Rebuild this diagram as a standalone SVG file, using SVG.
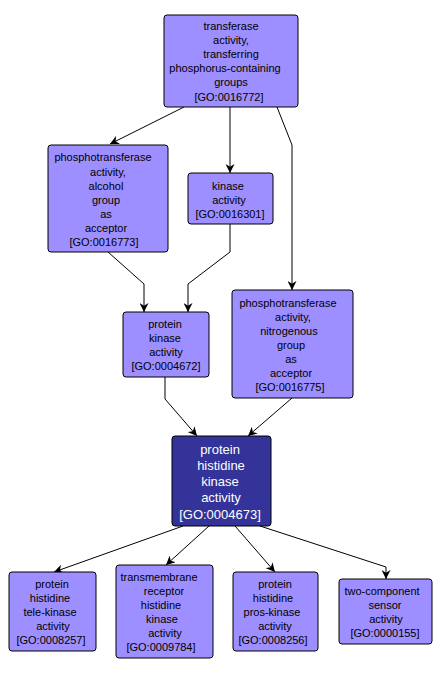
<svg xmlns="http://www.w3.org/2000/svg" width="443" height="673" viewBox="0 0 443 673">
<style>
.n rect{fill:#9d8fff;stroke:#000;stroke-width:1}
.n text{font-family:"Liberation Sans",Arial,sans-serif;font-size:11px;fill:#000;text-anchor:middle}
.m rect{fill:#333399;stroke:#000;stroke-width:1}
.m text{font-family:"Liberation Sans",Arial,sans-serif;font-size:13px;fill:#fff;text-anchor:middle}
.e path{fill:none;stroke:#000;stroke-width:1;marker-end:url(#a)}
</style>
<defs>
<marker id="a" viewBox="0 0 10 10" refX="10" refY="5" markerWidth="9" markerHeight="9" orient="auto" markerUnits="userSpaceOnUse">
<path d="M0,0 L10,5 L0,10 L3,5 Z" fill="#000"/>
</marker>
</defs>
<rect width="443" height="673" fill="#fff"/>
<g class="e" id="edges">
<path d="M184,107 L110,144"/>
<path d="M230,107 L230,173"/>
<path d="M277,107 L292,145 L292,290"/>
<path d="M108,252 L144,284 L144,312"/>
<path d="M230,224 L230,252 L188,284 L188,312"/>
<path d="M165,377 L165,399 L197,436"/>
<path d="M292,398 L248,436"/>
<path d="M183,526 L54,572"/>
<path d="M209,526 L166,565"/>
<path d="M235,526 L275,572"/>
<path d="M260,526 L386,567 L386,579"/>
</g>
<g class="n" id="GO0016772">
<rect x="164" y="15" width="134" height="92" rx="3"/>
<text x="231" y="30">transferase</text>
<text x="231" y="44">activity,</text>
<text x="231" y="58">transferring</text>
<text x="225" y="72">phosphorus-containing</text>
<text x="231" y="86">groups</text>
<text x="229" y="101">[GO:0016772]</text>
</g>
<g class="n" id="GO0016773">
<rect x="48" y="145" width="120" height="107" rx="3"/>
<text x="103" y="161">phosphotransferase</text>
<text x="108" y="176">activity,</text>
<text x="106" y="190">alcohol</text>
<text x="106" y="204">group</text>
<text x="106" y="218">as</text>
<text x="106" y="232">acceptor</text>
<text x="104" y="246">[GO:0016773]</text>
</g>
<g class="n" id="GO0016301">
<rect x="188" y="173" width="85" height="51" rx="3"/>
<text x="228" y="190">kinase</text>
<text x="229" y="204">activity</text>
<text x="230" y="218">[GO:0016301]</text>
</g>
<g class="n" id="GO0004672">
<rect x="123" y="312" width="86" height="65" rx="3"/>
<text x="165" y="328">protein</text>
<text x="165" y="342">kinase</text>
<text x="166" y="356">activity</text>
<text x="166" y="370">[GO:0004672]</text>
</g>
<g class="n" id="GO0016775">
<rect x="232" y="290" width="121" height="108" rx="3"/>
<text x="288" y="307">phosphotransferase</text>
<text x="293" y="321">activity,</text>
<text x="289" y="335">nitrogenous</text>
<text x="291" y="349">group</text>
<text x="291" y="363">as</text>
<text x="291" y="377">acceptor</text>
<text x="290" y="391">[GO:0016775]</text>
</g>
<g class="m" id="GO0004673">
<rect x="172" y="436" width="99" height="90" rx="3"/>
<text x="220" y="454">protein</text>
<text x="221" y="470">histidine</text>
<text x="220" y="486">kinase</text>
<text x="221" y="502">activity</text>
<text x="220" y="519">[GO:0004673]</text>
</g>
<g class="n" id="GO0008257">
<rect x="9" y="572" width="87" height="79" rx="3"/>
<text x="52" y="588">protein</text>
<text x="50" y="602">histidine</text>
<text x="50" y="616">tele-kinase</text>
<text x="53" y="630">activity</text>
<text x="51" y="644">[GO:0008257]</text>
</g>
<g class="n" id="GO0009784">
<rect x="116" y="565" width="97" height="93" rx="3"/>
<text x="159" y="581">transmembrane</text>
<text x="164" y="595">receptor</text>
<text x="161" y="609">histidine</text>
<text x="162" y="623">kinase</text>
<text x="165" y="637">activity</text>
<text x="161" y="651">[GO:0009784]</text>
</g>
<g class="n" id="GO0008256">
<rect x="233" y="572" width="85" height="79" rx="3"/>
<text x="275" y="588">protein</text>
<text x="273" y="602">histidine</text>
<text x="272" y="616">pros-kinase</text>
<text x="275" y="630">activity</text>
<text x="273" y="644">[GO:0008256]</text>
</g>
<g class="n" id="GO0000155">
<rect x="339" y="579" width="93" height="65" rx="3"/>
<text x="382" y="595">two-component</text>
<text x="385" y="609">sensor</text>
<text x="386" y="623">activity</text>
<text x="385" y="637">[GO:0000155]</text>
</g>
</svg>
